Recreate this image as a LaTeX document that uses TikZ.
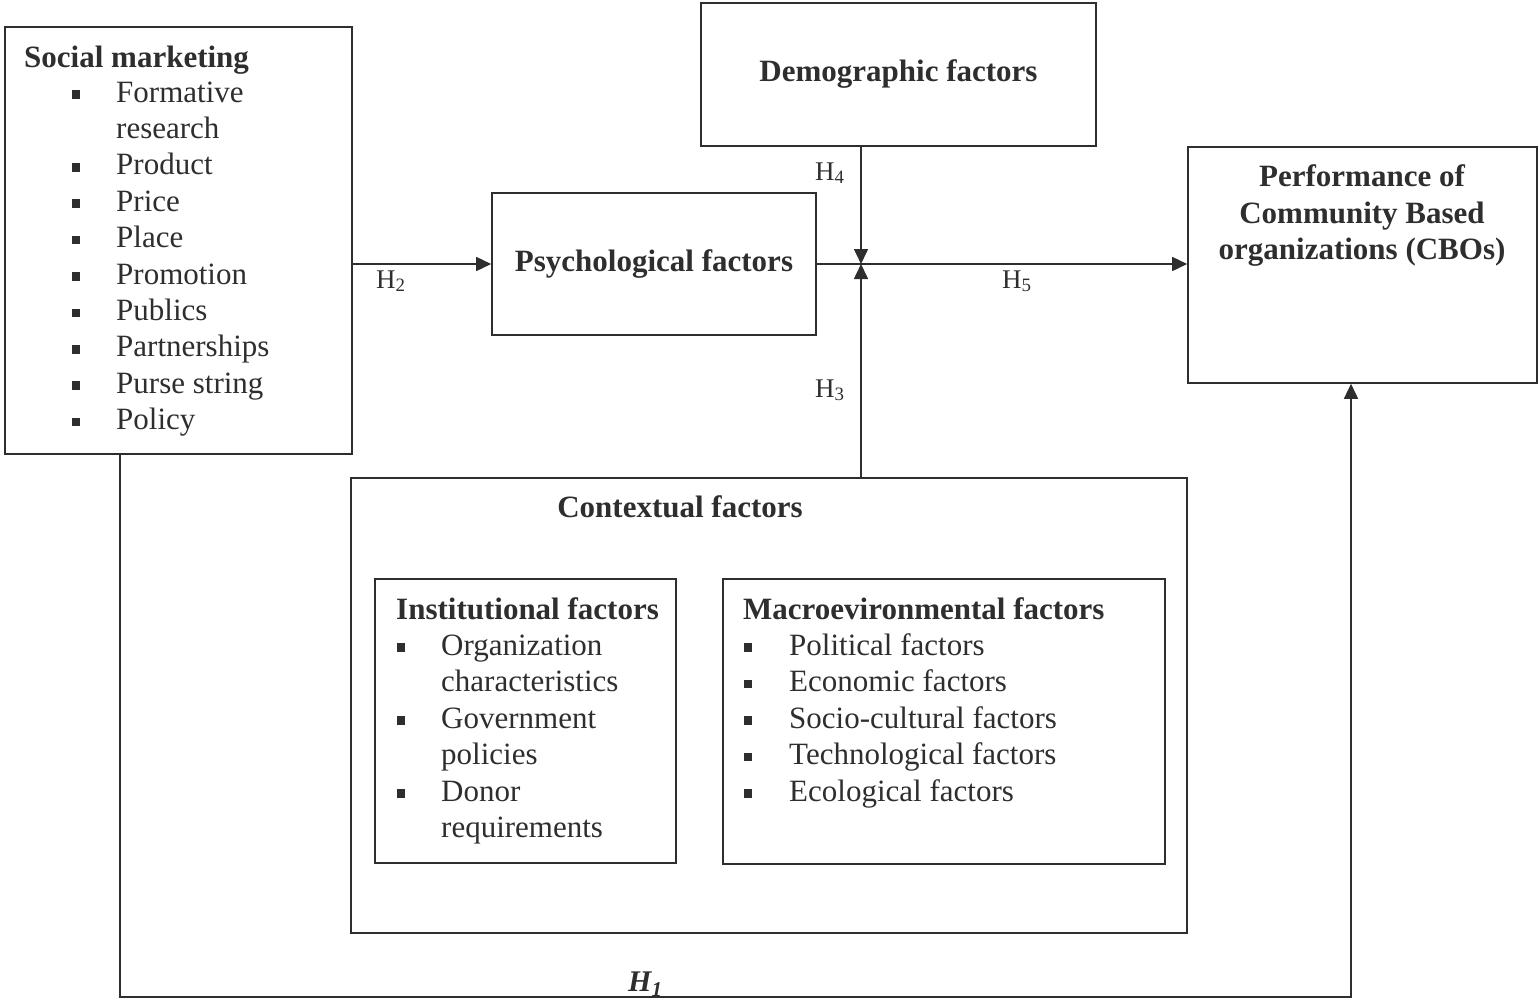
\documentclass[tikz,border=0pt]{standalone}
\usepackage{fontspec}
\setmainfont{Liberation Serif}
\usetikzlibrary{arrows.meta}
\definecolor{ink}{gray}{0.18}

\begin{document}
\begin{tikzpicture}[x=1pt,y=-1pt,
  ln/.style={draw=ink, line width=1.6pt},
  box/.style={ln, rectangle, inner sep=0pt},
  tip/.style={-{Triangle[length=15pt,width=14pt]}},
  head/.style={font=\fontsize{31}{37}\selectfont\bfseries, text=ink, inner sep=0pt},
  item/.style={font=\fontsize{31}{37}\selectfont, text=ink, inner sep=0pt, anchor=base west},
  hyp/.style={font=\fontsize{27}{31}\selectfont, text=ink, inner sep=0pt, anchor=base west},
  bul/.style={fill=ink, rectangle, minimum size=8.5pt, inner sep=0pt}
]
\useasboundingbox (0,0) rectangle (1539,1001);

% boxes
\node[box, minimum width=347, minimum height=427] (sm)    at (178.5,240.5) {};
\node[box, minimum width=395, minimum height=143] (demo)  at (898.5,74.5) {};
\node[box, minimum width=324, minimum height=142] (psy)   at (654,264) {};
\node[box, minimum width=349, minimum height=236] (perf)  at (1362.5,265) {};
\node[box, minimum width=836, minimum height=455] (ctx)   at (769,705.5) {};
\node[box, minimum width=301, minimum height=284] (inst)  at (525.5,721) {};
\node[box, minimum width=442, minimum height=285] (macro) at (944,721.5) {};

% connectors
\coordinate (j) at (861,264);
\coordinate (c1) at (120,997);
\coordinate (c2) at (1351,997);
\draw[ln,tip] (sm.east |- psy.west) -- (psy.west);
\draw[ln,tip] (psy.east) -- (psy.east -| perf.west);
\draw[ln,tip] (demo.south -| j) -- (j);
\draw[ln,tip] (ctx.north -| j) -- (j);
\draw[ln,tip] (sm.south -| c1) -- (c1) -- (c2) -- (perf.south -| c2);

% hypothesis labels
\node[hyp] (h2) at (376,288) {H\textsubscript{2}};
\node[hyp] (h5) at (1002,288) {H\textsubscript{5}};
\node[hyp] (h4) at (815,180) {H\textsubscript{4}};
\node[hyp] (h3) at (815,397) {H\textsubscript{3}};
\node[hyp, font=\fontsize{30}{34}\selectfont\bfseries\itshape] (h1) at (628,991) {H\textsubscript{1}};

% social marketing
\node[head, anchor=base west] (smt) at (24,67) {Social marketing};
\node[item] (s1)  at (116,102)   {Formative};
\node[item] (s1b) at (116,138.4) {research};
\node[item] (s2)  at (116,174.8) {Product};
\node[item] (s3)  at (116,211.2) {Price};
\node[item] (s4)  at (116,247.6) {Place};
\node[item] (s5)  at (116,284)   {Promotion};
\node[item] (s6)  at (116,320.4) {Publics};
\node[item] (s7)  at (116,356.8) {Partnerships};
\node[item] (s8)  at (116,393.2) {Purse string};
\node[item] (s9)  at (116,429.6) {Policy};
\foreach \y [count=\i] in {102,174.8,211.2,247.6,284,320.4,356.8,393.2,429.6}
  \node[bul] (sb\i) at (76,\y-7.5) {};

% single-title boxes
\node[head, anchor=base] (demot) at (898.5,81) {Demographic factors};
\node[head, anchor=base] (psyt)  at (654,271) {Psychological factors};
\node[head, anchor=base] (ctxt)  at (680,517) {Contextual factors};
\node[head, anchor=base] (pf1) at (1362,186) {Performance of};
\node[head, anchor=base] (pf2) at (1362,223) {Community Based};
\node[head, anchor=base] (pf3) at (1362,259) {organizations (CBOs)};

% institutional factors
\node[head, anchor=base west] (instt) at (396,619) {Institutional factors};
\node[item] (i1)  at (441,655)   {Organization};
\node[item] (i1b) at (441,691.5) {characteristics};
\node[item] (i2)  at (441,728)   {Government};
\node[item] (i2b) at (441,764.5) {policies};
\node[item] (i3)  at (441,801)   {Donor};
\node[item] (i3b) at (441,837.5) {requirements};
\foreach \y [count=\i] in {655,728,801}
  \node[bul] (ib\i) at (401,\y-7.5) {};

% macroenvironmental factors
\node[head, anchor=base west] (macrot) at (743,619) {Macroevironmental factors};
\node[item] (m1) at (789,655)   {Political factors};
\node[item] (m2) at (789,691.5) {Economic factors};
\node[item] (m3) at (789,728)   {Socio-cultural factors};
\node[item] (m4) at (789,764.5) {Technological factors};
\node[item] (m5) at (789,801)   {Ecological factors};
\foreach \y [count=\i] in {655,691.5,728,764.5,801}
  \node[bul] (mb\i) at (748,\y-7.5) {};
\end{tikzpicture}
\end{document}
